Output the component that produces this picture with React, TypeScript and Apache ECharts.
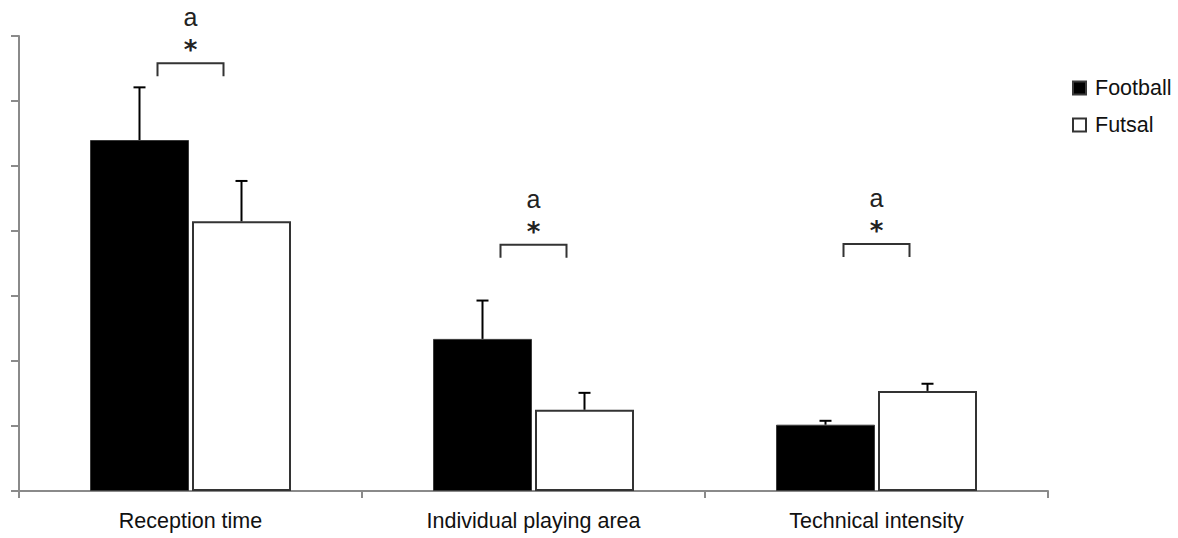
import React, { useEffect, useRef } from "react";
import * as echarts from "echarts";

const categories = ["Reception time", "Individual playing area", "Technical intensity"];
const footballMean = [5.4, 2.34, 1.02];
const footballSD = [0.81, 0.59, 0.06];
const futsalMean = [4.15, 1.25, 1.54];
const futsalSD = [0.62, 0.26, 0.11];
const sigLevel = [6.58, 3.79, 3.8];
const sigLetter = ["a", "a", "a"];
const sigStar = ["*", "*", "*"];

const FONT = "'Liberation Sans', Arial, sans-serif";
const STAR_FONT = "'DejaVu Sans', sans-serif";
const BAR_W = 99;
const GAP = 3;

export default function App() {
  const ref = useRef<HTMLDivElement>(null);
  useEffect(() => {
    const chart = echarts.init(ref.current!, null, { renderer: "svg" });
    const errData: number[][] = [];
    categories.forEach((_, i) => {
      errData.push([i, footballMean[i], footballSD[i], 0]);
      errData.push([i, futsalMean[i], futsalSD[i], 1]);
    });
    const sigData = categories.map((_, i) => [i, sigLevel[i]]);
    const off = (BAR_W + GAP) / 2;
    chart.setOption({
      animation: false,
      grid: { left: 19, right: 130, top: 36, bottom: 47 },
      legend: {
        data: ["Football", "Futsal"],
        orient: "vertical",
        left: 1067,
        top: 72,
        itemWidth: 13,
        itemHeight: 13,
        itemGap: 15,
        icon: "rect",
        textStyle: { fontSize: 21.5, fontFamily: FONT, color: "#111", padding: [0, 0, 0, 4] },
      },
      xAxis: {
        type: "category",
        data: categories,
        axisLine: { lineStyle: { color: "#8a8a8a", width: 2 } },
        axisTick: { show: true, length: 7, lineStyle: { color: "#8a8a8a", width: 2 } },
        axisLabel: { fontSize: 21.5, fontFamily: FONT, color: "#111", margin: 19, interval: 0 },
      },
      yAxis: {
        type: "value",
        min: 0,
        max: 7,
        interval: 1,
        axisLine: { show: true, lineStyle: { color: "#8a8a8a", width: 2 } },
        axisTick: { show: true, length: 8, lineStyle: { color: "#8a8a8a", width: 2 } },
        axisLabel: { show: false },
        splitLine: { show: false },
      },
      series: [
        {
          name: "Football",
          type: "bar",
          data: footballMean,
          barWidth: BAR_W,
          barGap: (GAP / BAR_W) * 100 + "%",
          itemStyle: { color: "#000", borderColor: "#3a3a3a", borderWidth: 1 },
        },
        {
          name: "Futsal",
          type: "bar",
          data: futsalMean,
          barWidth: BAR_W,
          itemStyle: { color: "#fff", borderColor: "#333", borderWidth: 2 },
        },
        {
          type: "custom",
          z: 10,
          data: errData,
          renderItem: (params: any, api: any) => {
            const idx = api.value(0);
            const m = api.value(1);
            const sd = api.value(2);
            const g = api.value(3);
            const top = api.coord([idx, m + sd]);
            const base = api.coord([idx, m]);
            const x = top[0] + (g === 0 ? -off : off);
            return {
              type: "group",
              children: [
                { type: "line", shape: { x1: x, y1: base[1], x2: x, y2: top[1] }, style: { stroke: "#000", lineWidth: 2 } },
                { type: "line", shape: { x1: x - 6, y1: top[1], x2: x + 6, y2: top[1] }, style: { stroke: "#000", lineWidth: 2 } },
              ],
            };
          },
        },
        {
          type: "custom",
          z: 10,
          data: sigData,
          renderItem: (params: any, api: any) => {
            const i = params.dataIndex;
            const p = api.coord([api.value(0), api.value(1)]);
            const x = p[0];
            const y = p[1];
            return {
              type: "group",
              children: [
                {
                  type: "polyline",
                  shape: { points: [[x - 33, y + 13], [x - 33, y], [x + 33, y], [x + 33, y + 13]] },
                  style: { stroke: "#333", lineWidth: 2, fill: "none" },
                },
                {
                  type: "text",
                  x: x,
                  y: y - 13,
                  style: { text: sigStar[i], fontSize: 26, fontWeight: "bold", fontFamily: STAR_FONT, fill: "#222", align: "center", verticalAlign: "middle" },
                },
                {
                  type: "text",
                  x: x,
                  y: y - 46,
                  style: { text: sigLetter[i], fontSize: 25, fontFamily: FONT, fill: "#222", align: "center", verticalAlign: "middle" },
                },
              ],
            };
          },
        },
      ],
    });
    return () => chart.dispose();
  }, []);
  return <div ref={ref} style={{ position: "absolute", left: 0, top: 0, width: 1178, height: 538 }} />;
}
